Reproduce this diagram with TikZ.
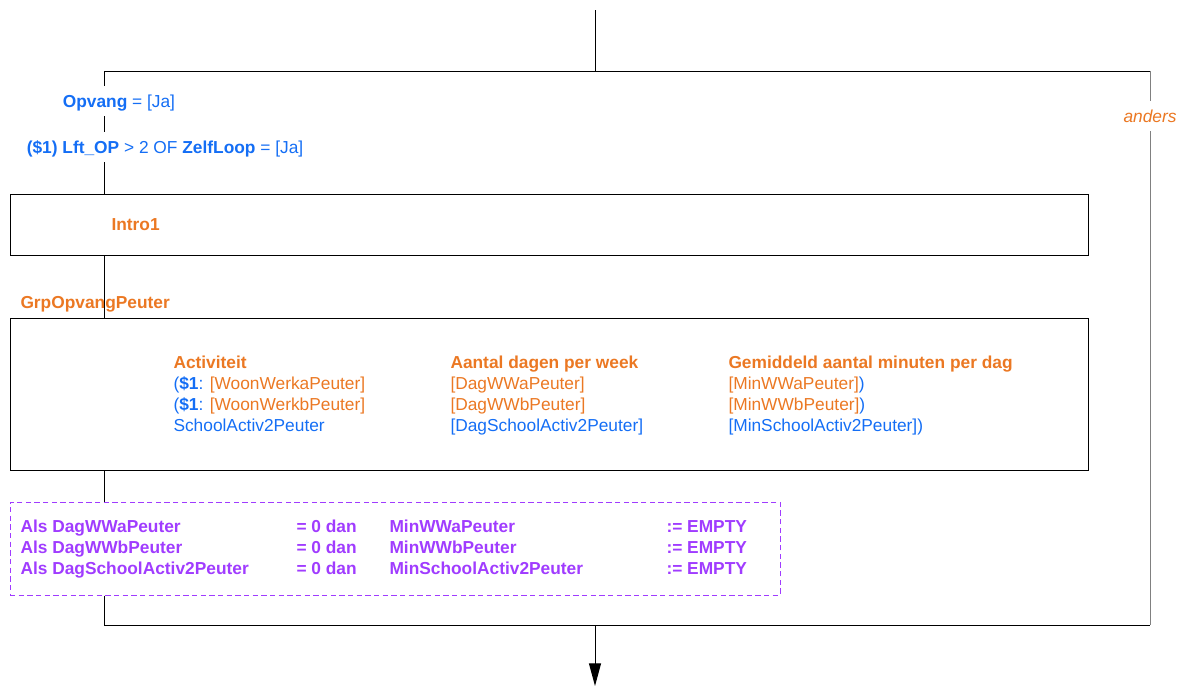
\documentclass[tikz,border=0pt]{standalone}
\usepackage{fontspec}
\setmainfont{Liberation Sans}
\usetikzlibrary{arrows.meta}
\definecolor{vblue}{RGB}{20,110,245}
\definecolor{vorange}{RGB}{235,120,35}
\definecolor{vpurple}{RGB}{160,60,255}

\begin{document}
\begin{tikzpicture}[x=0.75pt,y=-0.75pt,line width=0.75pt,
  lbl/.style={font=\fontsize{13}{16}\selectfont,inner sep=0pt,anchor=base west},
  gap/.style={lbl,fill=white,text height=16pt,text depth=7pt,inner xsep=1pt},
  box/.style={draw,inner sep=0pt}]
\useasboundingbox (0,0) rectangle (1186,686);
\node[box,minimum width=808.5pt,minimum height=45.75pt] (Intro) at (549,224.5) {};
\node[box,minimum width=808.5pt,minimum height=114pt] (Tab) at (549,394) {};
\node[box,draw=vpurple,dash pattern=on 4pt off 2.5pt,minimum width=577.5pt,minimum height=69.75pt] (Als) at (395,548.5) {};
\coordinate (Top) at (595,10);
\coordinate (Split) at (595,71);
\coordinate (TL) at (104,71);
\coordinate (TR) at (1150,71);
\coordinate (BL) at (104,625);
\coordinate (BR) at (1150,625);
\coordinate (Join) at (595,625);
\coordinate (End) at (595,686);
\draw (Top)--(Split);
\draw (TL)--(TR);
\draw[gray] (TR)--(BR);
\draw (TL)--(TL |- Intro.north);
\draw (TL |- Intro.south)--(TL |- Tab.north);
\draw (TL |- Tab.south)--(TL |- Als.north);
\draw (TL |- Als.south)--(BL)--(BR);
\draw[-{Triangle[length=17pt,width=9pt]}] (Join)--(End);
\node[gap] (Opv) at (61,107) {\color{vblue}\textbf{Opvang} = [Ja]};
\node[gap] (Lft) at (25,153) {\color{vblue}\textbf{(\$1) Lft\_OP} > 2 OF \textbf{ZelfLoop} = [Ja]};
\node[gap,anchor=base] (And) at (1150,122) {\color{vorange}\itshape anders};
\node[lbl] (IntroT) at (111,230) {\color{vorange}\bfseries Intro1};
\node[lbl] (Grp) at (20,308) {\color{vorange}\bfseries GrpOpvangPeuter};
\node[lbl] (ActH) at (173,368) {\color{vorange}\bfseries Activiteit};
\node[lbl] (ActA) at (173,389) {\color{vblue}(\textbf{\$1}: \color{vorange}[WoonWerkaPeuter]};
\node[lbl] (ActB) at (173,410) {\color{vblue}(\textbf{\$1}: \color{vorange}[WoonWerkbPeuter]};
\node[lbl] (ActC) at (173,431) {\color{vblue}SchoolActiv2Peuter};
\node[lbl] (DagH) at (450,368) {\color{vorange}\bfseries Aantal dagen per week};
\node[lbl] (DagA) at (450,389) {\color{vorange}[DagWWaPeuter]};
\node[lbl] (DagB) at (450,410) {\color{vorange}[DagWWbPeuter]};
\node[lbl] (DagC) at (450,431) {\color{vblue}[DagSchoolActiv2Peuter]};
\node[lbl] (MinH) at (728,368) {\color{vorange}\bfseries Gemiddeld aantal minuten per dag};
\node[lbl] (MinA) at (728,389) {\color{vorange}[MinWWaPeuter]\color{vblue})};
\node[lbl] (MinB) at (728,410) {\color{vorange}[MinWWbPeuter]\color{vblue})};
\node[lbl] (MinC) at (728,431) {\color{vblue}[MinSchoolActiv2Peuter])};
\node[lbl] (AlsA) at (20,532) {\color{vpurple}\bfseries Als DagWWaPeuter};
\node[lbl] (AlsB) at (20,553) {\color{vpurple}\bfseries Als DagWWbPeuter};
\node[lbl] (AlsC) at (20,574) {\color{vpurple}\bfseries Als DagSchoolActiv2Peuter};
\node[lbl] (NulA) at (296,532) {\color{vpurple}\bfseries = 0 dan};
\node[lbl] (NulB) at (296,553) {\color{vpurple}\bfseries = 0 dan};
\node[lbl] (NulC) at (296,574) {\color{vpurple}\bfseries = 0 dan};
\node[lbl] (SetA) at (389,532) {\color{vpurple}\bfseries MinWWaPeuter};
\node[lbl] (SetB) at (389,553) {\color{vpurple}\bfseries MinWWbPeuter};
\node[lbl] (SetC) at (389,574) {\color{vpurple}\bfseries MinSchoolActiv2Peuter};
\node[lbl] (EmpA) at (666,532) {\color{vpurple}\bfseries := EMPTY};
\node[lbl] (EmpB) at (666,553) {\color{vpurple}\bfseries := EMPTY};
\node[lbl] (EmpC) at (666,574) {\color{vpurple}\bfseries := EMPTY};
\end{tikzpicture}
\end{document}
